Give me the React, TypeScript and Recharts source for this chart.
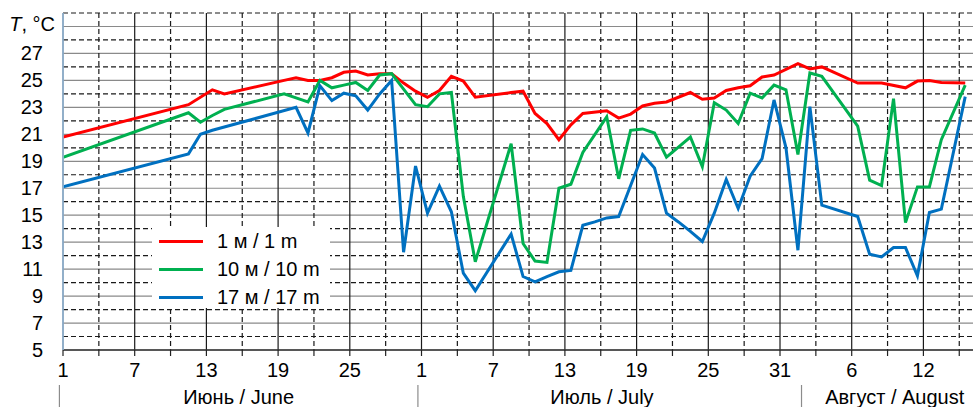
import React from 'react';
import { LineChart, Line, XAxis, YAxis, CartesianGrid, Legend } from 'recharts';

// ---------- data ----------
const seriesNames = ['1 м / 1 m', '10 м / 10 m', '17 м / 17 m'];
const seriesColors = ['#ff0000', '#00b050', '#0070c0'];

// day offset from 1 June (0 = 1 June)
const days1m = [0, 10.5, 12.5, 13.5, 18.5, 19.5, 20.5, 21.5, 22.5, 23.5, 24.5, 25.5, 26.5, 27.5, 28.5, 29.5, 30.5, 31.5, 32.5, 33.5, 34.5,
  37.5, 38.5, 39.5, 40.5, 41.5, 42.5, 43.5, 45.5, 46.5, 47.5, 48.5, 49.5, 50.5, 52.5, 53.5, 54.5, 55.5, 56.5, 57.5, 58.5, 59.5,
  61.5, 62.5, 63.5, 66.5, 68.5, 70.5, 71.5, 72.5, 73.5, 75.5];
const temp1m = [20.8, 23.2, 24.3, 24.0, 25.0, 25.2, 25.0, 25.0, 25.2, 25.6, 25.7, 25.4, 25.5, 25.5, 24.8, 24.2, 23.75, 24.25, 25.3, 24.95, 23.75,
  24.1, 24.2, 22.55, 21.8, 20.6, 21.7, 22.55, 22.75, 22.2, 22.5, 23.1, 23.3, 23.4, 24.1, 23.6, 23.7, 24.25, 24.45, 24.6, 25.25, 25.4,
  26.25, 25.85, 26.0, 24.8, 24.8, 24.45, 24.95, 25.0, 24.85, 24.8];

const days10m = [0, 10.5, 11.5, 12.5, 13.5, 18.5, 19.5, 20.5, 21.5, 22.5, 23.5, 24.5, 25.5, 26.5, 27.5, 28.5, 29.5, 30.5, 31.5, 32.5, 33.5, 34.5,
  37.5, 38.5, 39.5, 40.5, 41.5, 42.5, 43.5, 45.5, 46.5, 47.5, 48.5, 49.5, 50.5, 51.5, 52.5, 53.5, 54.5, 55.5, 56.5, 57.5, 58.5, 59.5,
  60.5, 61.5, 62.5, 63.5, 66.5, 67.5, 68.5, 69.5, 70.5, 71.5, 72.5, 73.5, 75.5];
const temp10m = [19.3, 22.6, 21.9, 22.4, 22.85, 24.0, 23.7, 23.4, 25.0, 24.45, 24.65, 24.85, 24.25, 25.4, 25.5, 24.35, 23.2, 23.05, 24.0, 24.1, 16.4, 11.55,
  20.3, 12.9, 11.6, 11.5, 17.0, 17.3, 19.65, 22.3, 17.7, 21.3, 21.4, 21.1, 19.3, 20.05, 20.8, 18.6, 23.35, 22.8, 21.8, 24.05, 23.7, 24.65,
  24.3, 19.5, 25.55, 25.3, 21.6, 17.6, 17.2, 23.65, 14.45, 17.1, 17.1, 20.6, 24.65];

const days17m = [0, 10.5, 11.5, 12.5, 19.5, 20.5, 21.5, 22.5, 23.5, 24.5, 25.5, 26.5, 27.5, 28.5, 29.5, 30.5, 31.5, 32.5, 33.5, 34.5,
  37.5, 38.5, 39.5, 40.5, 41.5, 42.5, 43.5, 44.5, 45.5, 46.5, 47.5, 48.5, 49.5, 50.5, 51.5, 52.5, 53.5, 54.5, 55.5, 56.5, 57.5, 58.5, 59.5,
  60.5, 61.5, 62.5, 63.5, 66.5, 67.5, 68.5, 69.5, 70.5, 71.5, 72.5, 73.5, 75.5];
const temp17m = [17.1, 19.55, 21.0, 21.3, 23.0, 21.1, 24.6, 23.5, 24.05, 23.85, 22.8, 24.0, 25.0, 12.25, 18.65, 15.15, 17.15, 15.25, 10.7, 9.4,
  13.6, 10.45, 10.05, 10.45, 10.8, 10.9, 14.25, 14.5, 14.8, 14.9, 17.2, 19.5, 18.5, 15.15, 14.5, 13.8, 13.05, 15.15, 17.65, 15.5, 17.9, 19.2, 23.55,
  20.0, 12.4, 23.05, 15.75, 14.9, 12.1, 11.9, 12.6, 12.6, 10.5, 15.2, 15.45, 23.8];

// axis ticks / labels
const labeledDays = [0, 6, 12, 18, 24, 30, 36, 42, 48, 54, 60, 66, 72];
const dayLabels = ['1', '7', '13', '19', '25', '1', '7', '13', '19', '25', '31', '6', '12'];
const minorDays = [3, 9, 15, 21, 27, 33, 39, 45, 51, 57, 63, 69, 75];
const allTickDays = [...labeledDays, ...minorDays].sort((a, b) => a - b);

const yLabelValues = [5, 7, 9, 11, 13, 15, 17, 19, 21, 23, 25, 27];
const yTitleValue = 29;
const ySolidValues = [5, 7, 9, 11, 13, 15, 17, 19, 21, 23, 25, 27, 29];
const yDashedValues = [6, 8, 10, 12, 14, 16, 18, 20, 22, 24, 26, 28, 30];

const monthNames = ['Июнь / June', 'Июль / July', 'Август / August'];
const monthCenters = [14.7, 45.1, 69.6];
const monthBoundaries = [-0.3, 29.7, 61.8];

const X_DOMAIN: [number, number] = [0, 76.15];
const Y_DOMAIN: [number, number] = [5, 30];

const FONT = '"Liberation Sans", Arial, sans-serif';
const FS = 20;

const mk = (days: number[], vals: number[]) => days.map((d, i) => ({ day: d, t: vals[i] }));
const data1 = mk(days1m, temp1m);
const data10 = mk(days10m, temp10m);
const data17 = mk(days17m, temp17m);

const sc = (axis: any, v: number) => {
  const s = axis && axis.scale;
  if (!s) return 0;
  if (typeof s === 'function') return s(v);
  if (typeof s.map === 'function') return s.map(v);
  return 0;
};

const YTick = (props: any) => {
  const { x, y, payload } = props;
  if (payload.value === yTitleValue) {
    return (
      <text x={x + 12} y={y} dy="0.25em" textAnchor="end" fontSize={FS} fontFamily={FONT} fill="#000">
        <tspan fontStyle="italic">T</tspan>, °C
      </text>
    );
  }
  return (
    <text x={x} y={y} dy="0.35em" textAnchor="end" fontSize={FS} fontFamily={FONT} fill="#000">
      {payload.value}
    </text>
  );
};

const XTick = (props: any) => {
  const { x, y, payload } = props;
  const i = labeledDays.indexOf(payload.value);
  if (i < 0) return <g />;
  return (
    <text x={x} y={y} dy="0.71em" textAnchor="middle" fontSize={FS} fontFamily={FONT} fill="#000">
      {dayLabels[i]}
    </text>
  );
};

const MonthTick = (props: any) => {
  const { x, y, payload } = props;
  const i = monthCenters.indexOf(payload.value);
  if (i >= 0) {
    return (
      <text x={x} y={y + 24} textAnchor="middle" fontSize={FS} fontFamily={FONT} fill="#000">
        {monthNames[i]}
      </text>
    );
  }
  return <line x1={x} x2={x} y1={y + 5} y2={y + 30} stroke="#8c8c8c" strokeWidth={1.2} />;
};

const LegendBox = () => (
  <div style={{ background: '#fff', width: 178, height: 81, position: 'relative', fontFamily: FONT, fontSize: FS, color: '#000' }}>
    {seriesNames.map((n, i) => (
      <div key={n} style={{ position: 'absolute', left: 0, top: i * 28, height: 28, display: 'flex', alignItems: 'center', whiteSpace: 'nowrap' }}>
        <span style={{ display: 'inline-block', marginLeft: 7, width: 44, height: 3, background: seriesColors[i] }} />
        <span style={{ marginLeft: 14, lineHeight: '28px' }}>{n}</span>
      </div>
    ))}
  </div>
);

export default function App() {
  return (
    <div style={{ position: 'absolute', left: 0, top: 0 }}>
      <LineChart width={973} height={407} margin={{ top: 13, right: 0, left: 0, bottom: 0 }}>
        <CartesianGrid
          vertical={false}
          stroke="#8a8a8a"
          strokeWidth={1.2}
          horizontalCoordinatesGenerator={({ yAxis }: any) => ySolidValues.map((v) => sc(yAxis, v))}
        />
        <CartesianGrid
          horizontal={false}
          stroke="#1a1a1a"
          strokeWidth={1.2}
          verticalCoordinatesGenerator={({ xAxis }: any) => labeledDays.map((v) => sc(xAxis, v))}
        />
        <CartesianGrid
          stroke="#1a1a1a"
          strokeWidth={1.2}
          strokeDasharray="5 3"
          horizontalCoordinatesGenerator={({ yAxis }: any) => yDashedValues.map((v) => sc(yAxis, v))}
          verticalCoordinatesGenerator={({ xAxis }: any) => minorDays.map((v) => sc(xAxis, v))}
        />
        <XAxis
          dataKey="day"
          type="number"
          domain={X_DOMAIN}
          allowDataOverflow
          ticks={allTickDays}
          interval={0}
          height={30}
          tickSize={6}
          tickMargin={7}
          axisLine={{ stroke: '#333', strokeWidth: 1.3 }}
          tickLine={{ stroke: '#222', strokeWidth: 1.2 }}
          tick={<XTick />}
        />
        <XAxis
          xAxisId="month"
          dataKey="day"
          type="number"
          domain={X_DOMAIN}
          allowDataOverflow
          ticks={[...monthBoundaries, ...monthCenters]}
          interval={0}
          height={27}
          tickSize={0}
          tickMargin={0}
          axisLine={false}
          tickLine={false}
          tick={<MonthTick />}
        />
        <YAxis
          type="number"
          domain={Y_DOMAIN}
          allowDataOverflow
          ticks={[...yLabelValues, yTitleValue]}
          interval={0}
          width={63}
          tickSize={0}
          tickMargin={20}
          tickLine={false}
          axisLine={{ stroke: '#9dc3e6', strokeWidth: 1.5 }}
          tick={<YTick />}
        />
        <Legend
          layout="vertical"
          align="center"
          verticalAlign="middle"
          content={<LegendBox />}
          wrapperStyle={{ left: 152, top: 227, width: 178, height: 81 }}
        />
        <Line data={data1} dataKey="t" name={seriesNames[0]} stroke={seriesColors[0]} strokeWidth={3} dot={false} type="linear" isAnimationActive={false} />
        <Line data={data10} dataKey="t" name={seriesNames[1]} stroke={seriesColors[1]} strokeWidth={3} dot={false} type="linear" isAnimationActive={false} />
        <Line data={data17} dataKey="t" name={seriesNames[2]} stroke={seriesColors[2]} strokeWidth={3} dot={false} type="linear" isAnimationActive={false} />
      </LineChart>
    </div>
  );
}
